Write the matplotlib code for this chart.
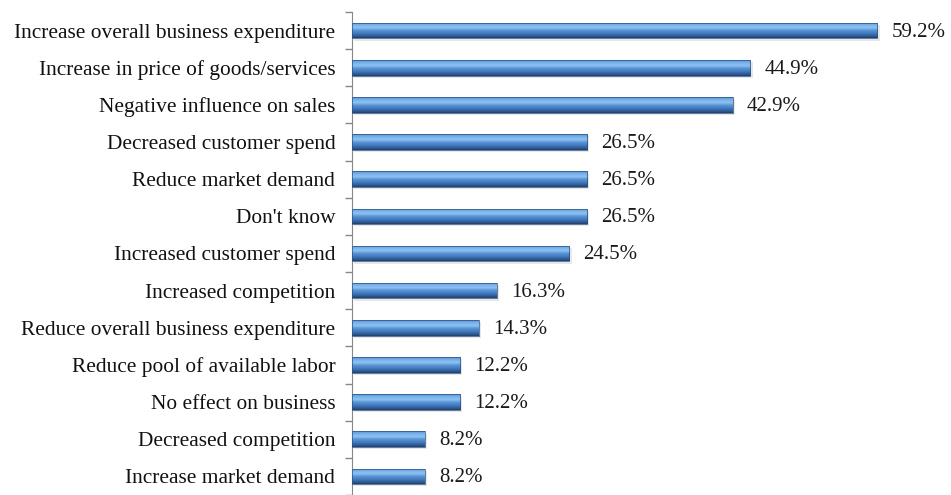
import matplotlib
matplotlib.use("Agg")
import matplotlib.pyplot as plt
import numpy as np
from matplotlib.colors import LinearSegmentedColormap

categories = ["Increase overall business expenditure", "Increase in price of goods/services",
              "Negative influence on sales", "Decreased customer spend", "Reduce market demand",
              "Don't know", "Increased customer spend", "Increased competition",
              "Reduce overall business expenditure", "Reduce pool of available labor",
              "No effect on business", "Decreased competition", "Increase market demand"]
values = [59.2, 44.9, 42.9, 26.5, 26.5, 26.5, 24.5, 16.3, 14.3, 12.2, 12.2, 8.2, 8.2]

plt.rcParams['font.family'] = ['Liberation Serif', 'DejaVu Serif']

W, H = 951, 495
fig = plt.figure(figsize=(W/100, H/100), dpi=100)
ax = fig.add_axes([352/W, 0, 1 - 352/W, 1 - 12/H])
n = len(categories)
y = np.arange(n)
bh = 0.42
xmax = 67.5
ax.set_xlim(0, xmax)
ax.set_ylim(n - 0.5, -0.5)

cmap = LinearSegmentedColormap.from_list(
    "cyl", [(0.0, "#5c97d8"), (0.2, "#7db5ea"), (0.35, "#8dc3f2"), (0.5, "#5c97d8"),
            (0.7, "#437bbf"), (0.88, "#2e5c98"), (1.0, "#213f6a")])
gimg = np.linspace(0, 1, 64).reshape(-1, 1)
for yi, v in zip(y, values):
    ax.barh(yi + 0.06, v, height=bh, left=0.25, color="#d8d8d8", alpha=0.6, linewidth=0, zorder=1)
    bars = ax.barh(yi, v, height=bh, color="#4a7ebb", linewidth=0, zorder=2)
    im = ax.imshow(gimg, cmap=cmap, aspect="auto", extent=(0, v, yi + bh/2, yi - bh/2),
                   zorder=3, interpolation="bilinear")
    im.set_clip_path(bars[0])
    ax.barh(yi, v, height=bh, color="none", edgecolor="#2a4f7f", linewidth=0.5, zorder=4)
    ax.text(v + 1.6, yi + 0.04, f"{v:.1f}%", va="center", ha="left", fontsize=15, color="#1a1a1a")

ax.set_yticks(y)
ax.set_yticklabels(categories, fontsize=15.4, color="#111111")
ax.tick_params(axis="y", length=0, pad=12)
ax.set_yticks(np.arange(-0.5, n, 1.0), minor=True)
ax.tick_params(axis="y", which="minor", length=5, color="#888888", width=1)
ax.set_xticks([])
for s in ["top", "right", "bottom"]:
    ax.spines[s].set_visible(False)
ax.spines["left"].set_color("#888888")
ax.set_facecolor("none")

fig.savefig("out.png", dpi=100)
